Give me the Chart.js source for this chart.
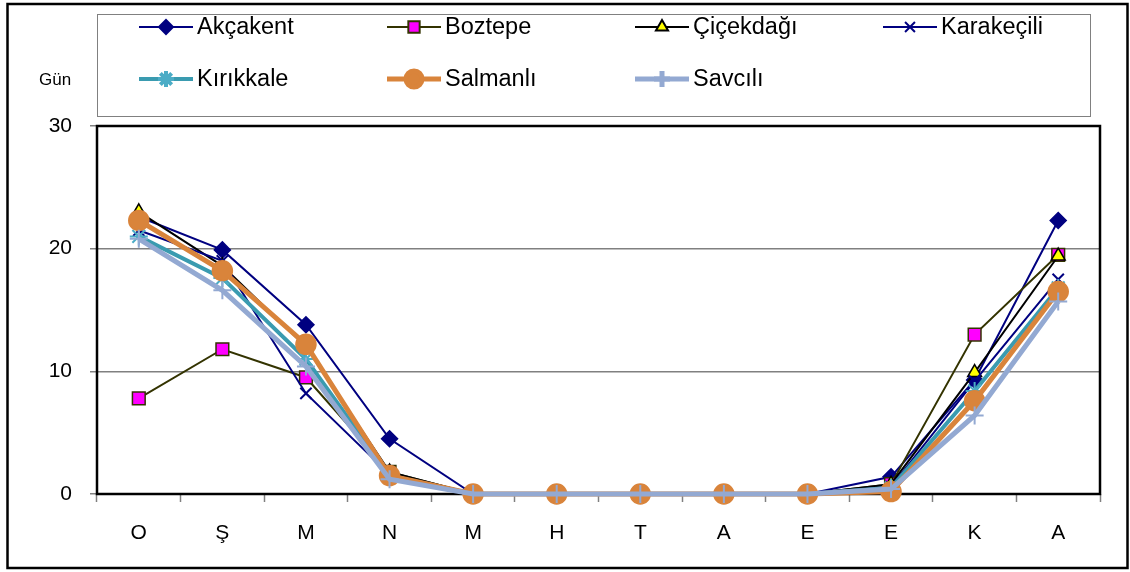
<!DOCTYPE html>
<html>
<head>
<meta charset="utf-8">
<script src="https://cdn.jsdelivr.net/npm/chart.js@4.4.1/dist/chart.umd.min.js"></script>
<style>
    html, body { margin: 0; padding: 0; background: #fff; }
    #wrap { width: 1130px; height: 572px; position: relative; }
</style>
</head>
<body>
<div id="wrap"><canvas id="grafico" width="1130" height="572"></canvas></div>
<script>
const aylar = ['O', 'Ş', 'M', 'N', 'M', 'H', 'T', 'A', 'E', 'E', 'K', 'A'];

const akcakent   = [22.6, 19.9, 13.8, 4.5, 0, 0, 0, 0, 0, 1.4, 9.3, 22.3];
const boztepe    = [7.8, 11.8, 9.5, 1.8, 0, 0, 0, 0, 0, 0.8, 13.0, 19.5];
const cicekdagi  = [23.0, 18.6, 12.0, 1.8, 0, 0, 0, 0, 0, 0.8, 9.9, 19.4];
const karakecili = [21.5, 19.0, 8.2, 1.6, 0, 0, 0, 0, 0, 0.6, 9.2, 17.5];
const kirikkale  = [21.0, 17.6, 11.0, 1.5, 0, 0, 0, 0, 0, 0.5, 8.4, 16.8];
const salmanli   = [22.3, 18.2, 12.2, 1.5, 0, 0, 0, 0, 0, 0.2, 7.6, 16.5];
const savcili    = [20.8, 16.6, 10.4, 1.2, 0, 0, 0, 0, 0, 0.4, 6.4, 15.7];

const SERIES = [
    { label: 'Akçakent',   data: akcakent,   line: '#000080', fill: '#000080', border: '#000080', style: 'rectRot',  r: 8,  w: 2 },
    { label: 'Boztepe',    data: boztepe,    line: '#333300', fill: '#ff00ff', border: '#333300', style: 'rect',     r: 9,  w: 2 },
    { label: 'Çiçekdağı',  data: cicekdagi,  line: '#000000', fill: '#ffff00', border: '#000000', style: 'triangle', r: 8,  w: 2 },
    { label: 'Karakeçili', data: karakecili, line: '#000080', fill: '#000080', border: '#000080', style: 'crossRot', r: 8,  w: 2 },
    { label: 'Kırıkkale',  data: kirikkale,  line: '#3a9bb0', fill: '#4bacc6', border: '#4bacc6', style: 'star',     r: 9,  w: 4 },
    { label: 'Salmanlı',   data: salmanli,   line: '#d9843b', fill: '#d9843b', border: '#d9843b', style: 'circle',   r: 10, w: 5 },
    { label: 'Savcılı',    data: savcili,    line: '#93a9d2', fill: '#93a9d2', border: '#93a9d2', style: 'cross',    r: 9,  w: 5 }
];

const GRIS = '#808080';
const FUENTE = '"Liberation Sans", Arial, sans-serif';
const esLinea = (s) => s.style === 'cross' || s.style === 'star' || s.style === 'crossRot';

// marco del área, borde exterior, leyenda y "Gün"
const marcoPlugin = {
    id: 'marco',
    beforeDatasetsDraw(chart) {
        const { ctx, chartArea: a } = chart;
        ctx.save();
        ctx.strokeStyle = '#000';
        ctx.lineWidth = 2.5;
        ctx.strokeRect(a.left, a.top, a.right - a.left, a.bottom - a.top);
        ctx.restore();
    },
    afterDraw(chart) {
        const ctx = chart.ctx;
        ctx.save();
        ctx.strokeStyle = '#000';
        ctx.lineWidth = 2.5;
        ctx.strokeRect(7.5, 4, 1120, 564);

        ctx.strokeStyle = GRIS;
        ctx.lineWidth = 1;
        ctx.strokeRect(97.5, 14.5, 993, 102);

        ctx.fillStyle = '#000';
        ctx.font = '17px ' + FUENTE;
        ctx.textAlign = 'left';
        ctx.textBaseline = 'middle';
        ctx.fillText('Gün', 39, 80);

        ctx.font = '23.5px ' + FUENTE;
        SERIES.forEach((s, i) => {
            const col = i % 4;
            const fila = Math.floor(i / 4);
            const tx = 197 + col * 248;
            const ty = 27 + fila * 52;
            ctx.strokeStyle = s.line;
            ctx.lineWidth = s.w;
            ctx.beginPath();
            ctx.moveTo(tx - 58, ty);
            ctx.lineTo(tx - 4, ty);
            ctx.stroke();
            ctx.fillStyle = s.fill;
            ctx.strokeStyle = s.border;
            Chart.helpers.drawPoint(ctx, {
                pointStyle: s.style,
                radius: s.style === 'circle' ? 8 : s.r - 1,
                rotation: 0,
                borderWidth: esLinea(s) ? 2 : 1.5
            }, tx - 31, ty);
            ctx.fillStyle = '#000';
            ctx.fillText(s.label, tx, ty + 1);
        });
        ctx.restore();
    }
};

const ctx = document.getElementById('grafico');

new Chart(ctx, {
    type: 'line',
    data: {
        labels: aylar,
        datasets: SERIES.map((s, i) => ({
            label: s.label,
            data: s.data,
            borderColor: s.line,
            borderWidth: s.w,
            backgroundColor: s.fill,
            pointStyle: s.style,
            pointRadius: s.r,
            pointBackgroundColor: s.fill,
            pointBorderColor: s.border,
            pointBorderWidth: esLinea(s) ? 2 : 1.5,
            tension: 0,
            fill: false,
            clip: false,
            order: SERIES.length - i
        }))
    },
    options: {
        responsive: false,
        animation: false,
        layout: { padding: { top: 126, right: 30, left: 0, bottom: 0 } },
        plugins: {
            legend: { display: false },
            tooltip: { enabled: false }
        },
        scales: {
            x: {
                offset: true,
                afterFit: (s) => { s.height = 78; },
                grid: {
                    offset: true,
                    drawOnChartArea: false,
                    drawTicks: true,
                    tickLength: 8,
                    tickColor: GRIS,
                    tickWidth: 1.5
                },
                border: { display: false },
                ticks: {
                    color: '#000',
                    padding: 19,
                    maxRotation: 0,
                    autoSkip: false,
                    font: { family: FUENTE, size: 21 }
                }
            },
            y: {
                min: 0,
                max: 30,
                afterFit: (s) => { s.width = 97; },
                grid: {
                    color: GRIS,
                    lineWidth: 1.5,
                    tickLength: 7,
                    tickColor: GRIS,
                    tickWidth: 1.5
                },
                border: { display: false },
                ticks: {
                    stepSize: 10,
                    color: '#000',
                    padding: 18,
                    font: { family: FUENTE, size: 21 }
                }
            }
        }
    },
    plugins: [marcoPlugin]
});
</script>
</body>
</html>
